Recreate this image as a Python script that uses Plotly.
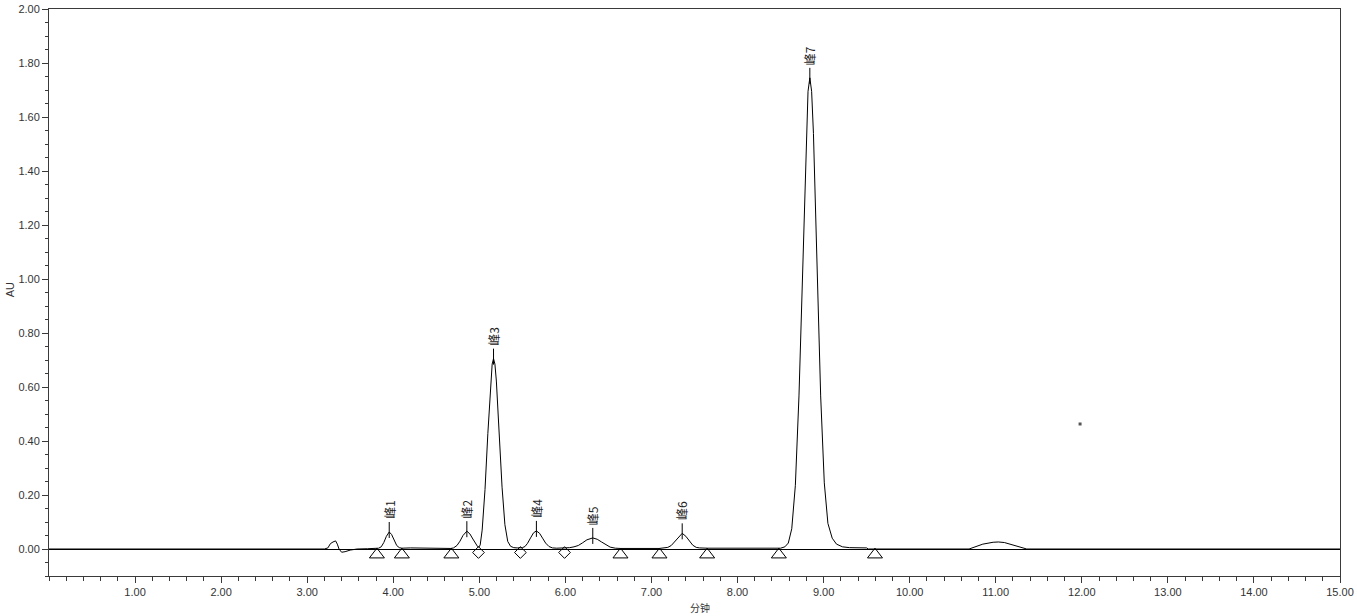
import plotly.graph_objects as go

# ---- chromatogram trace (time in min, absorbance in AU) ----
time_min = [
    0.00, 3.20, 3.24, 3.27, 3.30, 3.33, 3.35, 3.37, 3.40, 3.44, 3.50, 3.58, 3.70, 3.80,
    3.83, 3.86, 3.89, 3.92, 3.953, 3.98, 4.01, 4.04, 4.07, 4.10, 4.20, 4.30, 4.40, 4.55, 4.67,
    4.70, 4.74, 4.775, 4.81, 4.855, 4.89, 4.925, 4.96, 4.98, 4.995, 5.01,
    5.033, 5.066, 5.099, 5.132, 5.149, 5.165, 5.181, 5.198, 5.231, 5.264, 5.297, 5.330, 5.363,
    5.40, 5.44, 5.48,
    5.50, 5.53, 5.56, 5.595, 5.63, 5.663, 5.70, 5.735, 5.77, 5.81, 5.85, 5.90, 5.95, 6.00,
    6.05, 6.10, 6.15, 6.20, 6.25, 6.318, 6.37, 6.42, 6.47, 6.52, 6.58, 6.64, 7.09,
    7.15, 7.19, 7.23, 7.27, 7.31, 7.357, 7.40, 7.44, 7.48, 7.52, 7.56, 7.65, 7.95, 8.00, 8.45,
    8.50, 8.55, 8.59, 8.63, 8.672, 8.714, 8.756, 8.798, 8.819, 8.84, 8.861, 8.882, 8.924,
    8.966, 9.008, 9.05, 9.10, 9.15, 9.22, 9.30, 9.50, 9.52,
    10.69, 10.85, 10.97, 11.03, 11.10, 11.25, 11.36, 15.00,
]
absorbance_au = [
    0.000, 0.000, 0.004, 0.020, 0.026, 0.030, 0.018, 0.000, -0.012, -0.010, -0.004, 0.000, 0.001, 0.002,
    0.003, 0.008, 0.024, 0.047, 0.063, 0.054, 0.033, 0.013, 0.005, 0.003, 0.004, 0.003, 0.002, 0.002, 0.002,
    0.004, 0.013, 0.029, 0.050, 0.066, 0.056, 0.037, 0.018, 0.009, 0.007, 0.015,
    0.070, 0.220, 0.428, 0.622, 0.685, 0.705, 0.685, 0.622, 0.428, 0.229, 0.090, 0.028, 0.010,
    0.005, 0.004, 0.004,
    0.005, 0.009, 0.021, 0.041, 0.060, 0.067, 0.058, 0.040, 0.022, 0.009, 0.004, 0.003, 0.003, 0.004,
    0.005, 0.008, 0.013, 0.023, 0.034, 0.041, 0.036, 0.026, 0.015, 0.007, 0.003, 0.002, 0.002,
    0.003, 0.006, 0.013, 0.027, 0.045, 0.058, 0.047, 0.030, 0.014, 0.006, 0.004, 0.003, 0.003, 0.001, 0.001,
    0.003, 0.008, 0.022, 0.075, 0.236, 0.567, 1.059, 1.539, 1.695, 1.745, 1.695, 1.539, 1.059,
    0.567, 0.245, 0.095, 0.040, 0.018, 0.008, 0.005, 0.004, 0.000,
    0.000, 0.018, 0.025, 0.026, 0.024, 0.011, 0.000, 0.000,
]

# ---- peak labels ----
peak_names = ["峰1", "峰2", "峰3", "峰4", "峰5", "峰6", "峰7"]
peak_times = [3.953, 4.855, 5.165, 5.663, 6.318, 7.357, 8.84]
peak_apex = [0.063, 0.066, 0.705, 0.067, 0.041, 0.058, 1.745]

# ---- integration marks ----
triangle_times = [3.81, 4.10, 4.675, 6.64, 7.093, 7.647, 8.48, 9.597]
diamond_times = [4.99, 5.477, 5.99]

# ---- stray speck in the picture ----
speck_t = [11.98]
speck_au = [0.463]

# ---- axis ticks ----
x_tick_vals = [1, 2, 3, 4, 5, 6, 7, 8, 9, 10, 11, 12, 13, 14, 15]
x_tick_text = ["1.00", "2.00", "3.00", "4.00", "5.00", "6.00", "7.00", "8.00",
               "9.00", "10.00", "11.00", "12.00", "13.00", "14.00", "15.00"]
y_tick_vals = [0.0, 0.2, 0.4, 0.6, 0.8, 1.0, 1.2, 1.4, 1.6, 1.8, 2.0]
y_tick_text = ["0.00", "0.20", "0.40", "0.60", "0.80", "1.00", "1.20", "1.40",
               "1.60", "1.80", "2.00"]

AXIS = "#3a3a3a"
TXT = "#333333"
FONT = "Liberation Sans, Arial, sans-serif"
CJK = "Noto Sans CJK SC, sans-serif"

fig = go.Figure()

fig.add_trace(go.Scatter(
    x=time_min, y=absorbance_au, mode="lines",
    line=dict(color="black", width=1), hoverinfo="skip", showlegend=False,
))

fig.add_trace(go.Scatter(
    x=triangle_times, y=[-0.021] * len(triangle_times), mode="markers",
    marker=dict(symbol="triangle-up-open", size=13, color="black",
                line=dict(color="black", width=1)),
    hoverinfo="skip", showlegend=False, cliponaxis=False,
))
fig.add_trace(go.Scatter(
    x=diamond_times, y=[-0.013] * len(diamond_times), mode="markers",
    marker=dict(symbol="diamond-open", size=9, color="black",
                line=dict(color="black", width=1)),
    hoverinfo="skip", showlegend=False, cliponaxis=False,
))
fig.add_trace(go.Scatter(
    x=speck_t, y=speck_au, mode="markers",
    marker=dict(symbol="square", size=3, color="#555555"),
    hoverinfo="skip", showlegend=False,
))

for name, t, h in zip(peak_names, peak_times, peak_apex):
    fig.add_shape(type="line", xref="x", yref="y", x0=t, x1=t,
                  ysizemode="pixel", yanchor=h, y0=-6, y1=10,
                  line=dict(color="black", width=1))
    fig.add_annotation(x=t, y=h, xref="x", yref="y", text=name, showarrow=False,
                       textangle=-90, yanchor="bottom", xanchor="center", yshift=11,
                       font=dict(family=CJK, size=12, color="#222222"))

# axis titles
fig.add_annotation(x=0.504, y=-0.0547, xref="paper", yref="paper", text="分钟",
                   showarrow=False, xanchor="center", yanchor="middle",
                   font=dict(family=CJK, size=10, color=TXT))
fig.add_annotation(x=-0.0302, y=0.504, xref="paper", yref="paper", text="AU",
                   showarrow=False, textangle=-90, xanchor="center", yanchor="middle",
                   font=dict(family=FONT, size=11, color=TXT))

fig.update_layout(
    width=1357, height=616,
    margin=dict(l=49, r=17, t=9, b=40, autoexpand=False),
    paper_bgcolor="white", plot_bgcolor="white",
    showlegend=False,
    xaxis=dict(
        range=[0, 15], tickmode="array", tickvals=x_tick_vals, ticktext=x_tick_text,
        ticks="outside", ticklen=6, tickwidth=1, tickcolor=AXIS,
        minor=dict(dtick=0.2, tick0=0, ticks="outside", ticklen=4, tickwidth=1, tickcolor=AXIS),
        showline=True, linecolor=AXIS, linewidth=1, mirror=True,
        showgrid=False, zeroline=False, automargin=False,
        tickfont=dict(family=FONT, size=11, color=TXT),
    ),
    yaxis=dict(
        range=[-0.1, 2.0], tickmode="array", tickvals=y_tick_vals, ticktext=y_tick_text,
        ticks="outside", ticklen=6, tickwidth=1, tickcolor=AXIS,
        minor=dict(dtick=0.05, tick0=0, ticks="outside", ticklen=3, tickwidth=1, tickcolor=AXIS),
        showline=True, linecolor=AXIS, linewidth=1, mirror=True,
        showgrid=False, zeroline=True, zerolinecolor="black", zerolinewidth=1, automargin=False,
        tickfont=dict(family=FONT, size=11, color=TXT),
    ),
)

fig.write_html(
    "out.html",
    config={"displayModeBar": False},
    post_script="document.body.style.margin='0';document.body.style.overflow='hidden';",
)
